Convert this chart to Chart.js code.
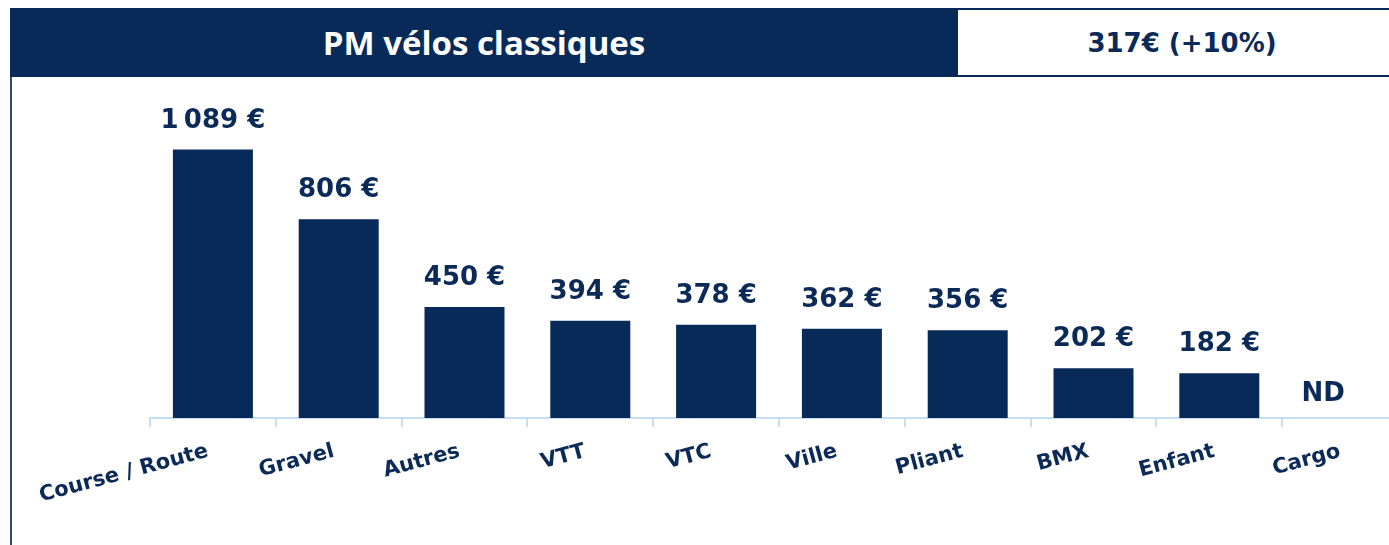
<!DOCTYPE html>
<html>
<head>
<meta charset="utf-8">
<script src="https://cdn.jsdelivr.net/npm/chart.js@4"></script>
<style>
  html, body { margin: 0; padding: 0; background: #fff; overflow: hidden; }
  body { width: 1389px; height: 545px; position: relative; }
  .band { position: absolute; left: 10px; top: 8px; width: 948px; height: 69px; background: #082a59;
          color: #fff; font: bold 33px "Open Sans", sans-serif; display: flex; align-items: center; justify-content: center; }
  .box { position: absolute; left: 958px; top: 8px; width: 450px; height: 65px; background: #fff;
         border-top: 2px solid #082a59; border-bottom: 2px solid #082a59;
         color: #0b2a57; font: bold 26px "DejaVu Sans", sans-serif; display: flex; align-items: center; justify-content: center; }
  .box span { margin-left: -2px; }
  .edge { position: absolute; left: 10px; top: 77px; width: 2px; height: 468px; background: #2c4a78; }
  .wrap { position: absolute; left: 0; top: 77px; width: 1389px; height: 468px; overflow: hidden; }
  canvas { display: block; }
</style>
</head>
<body>
<div class="band">PM vélos classiques</div>
<div class="box"><span>317€ (+10%)</span></div>
<div class="wrap"><canvas id="c" width="1420" height="468"></canvas></div>
<div class="edge"></div>
<script>
const categories = ['Course / Route', 'Gravel', 'Autres', 'VTT', 'VTC', 'Ville', 'Pliant', 'BMX', 'Enfant', 'Cargo'];
const prices     = [1089, 806, 450, 394, 378, 362, 356, 202, 182, null];

const NAVY = '#082a59';
const TEXT = '#0b2a57';
const AXIS = '#c6ddf6';

function fmt(v) {
  if (v == null) return 'ND';
  const s = String(v).replace(/\B(?=(\d{3})+(?!\d))/g, '\u202F');
  return s + ' €';
}

// étiquettes de valeur au-dessus des barres
const labelPlugin = {
  id: 'valueLabels',
  afterDatasetsDraw(chart) {
    const ctx = chart.ctx;
    const meta = chart.getDatasetMeta(0);
    const base = chart.scales.y.getPixelForValue(0);
    ctx.save();
    ctx.fillStyle = TEXT;
    ctx.font = 'bold 26px "DejaVu Sans", sans-serif';
    ctx.textAlign = 'center';
    ctx.textBaseline = 'alphabetic';
    meta.data.forEach((bar, i) => {
      const v = prices[i];
      if (v == null) {
        ctx.fillText('ND', bar.x - 22, base - 17);
      } else {
        ctx.fillText(fmt(v), bar.x, bar.y - 22);
      }
    });
    ctx.restore();
  }
};

new Chart(document.getElementById('c'), {
  type: 'bar',
  data: {
    labels: categories,
    datasets: [{
      data: prices,
      backgroundColor: NAVY,
      borderWidth: 0,
      barPercentage: 0.636,
      categoryPercentage: 1
    }]
  },
  options: {
    responsive: false,
    animation: false,
    layout: { padding: { left: 150, right: 12, top: 23, bottom: 0 } },
    plugins: { legend: { display: false }, tooltip: { enabled: false } },
    scales: {
      x: {
        offset: true,
        afterFit(s) { s.height = 127; },
        grid: { display: true, drawOnChartArea: false, drawTicks: true, tickLength: 9, color: AXIS, lineWidth: 2, offset: true },
        border: { display: true, color: AXIS, width: 2 },
        ticks: {
          color: TEXT,
          font: { family: '"DejaVu Sans", sans-serif', size: 21, weight: 'bold' },
          minRotation: 15, maxRotation: 15,
          padding: 12,
          labelOffset: -5,
          autoSkip: false
        }
      },
      y: { display: false, min: 0, max: 1290 }
    }
  },
  plugins: [labelPlugin]
});
</script>
</body>
</html>
